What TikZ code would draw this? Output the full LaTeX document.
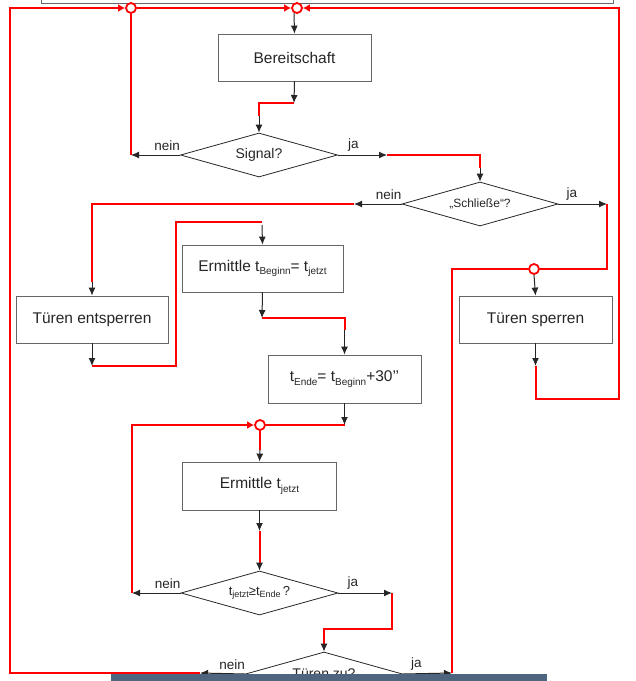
\documentclass[tikz,border=0pt]{standalone}
\usepackage{fontspec}
\setmainfont{Liberation Sans}
\usetikzlibrary{shapes.geometric, arrows.meta, positioning}
\definecolor{barblue}{HTML}{4E6580}
\definecolor{ink}{HTML}{262626}
\newcommand\tsub[2][10]{\raisebox{-.4ex}{\fontsize{#1}{#1}\selectfont #2}}

\begin{document}
\begin{tikzpicture}[x=1pt, y=-1pt, >={Latex[length=8pt,width=7pt]},
  box/.style={draw=black!60, line width=0.8pt, minimum width=153pt, minimum height=47pt, inner sep=0pt, text=ink, font=\fontsize{15.5}{18}\selectfont},
  dia/.style={draw=ink, line width=0.8pt, diamond, aspect=3.5, minimum width=157pt, minimum height=44pt, inner sep=0pt, text=ink, font=\fontsize{14}{16}\selectfont},
  flow/.style={draw=ink, line width=1pt, ->},
  redline/.style={draw=red, line width=2pt},
  redarrow/.style={redline, -{Latex[length=7pt,width=8pt]}},
  knot/.style={circle, draw=red, line width=1.8pt, fill=white, inner sep=0pt, minimum size=10pt},
  lbl/.style={inner sep=0pt, text=ink, font=\fontsize{13.5}{15}\selectfont}]
\useasboundingbox (0,0) rectangle (636,681);
\draw[black!60, line width=0.8pt] (41,-10) rectangle (613,3);

% boxes and decisions
\node[box] (ready) at (294.5,57.5) {Bereitschaft};
\node[dia] (signal) at (259,155) {Signal?};
\node[dia, minimum width=156pt, font=\fontsize{12}{14}\selectfont] (close) at (480,204) {„Schließe“?};
\node[box, minimum width=152pt] (unlock) at (92,319.5) {Türen entsperren};
\node[box] (lock) at (535.5,319.5) {Türen sperren};
\node[box, minimum width=161pt] (tbegin) at (262.5,268.5) {Ermittle t\tsub{Beginn}= t\tsub{jetzt}};
\node[box, minimum height=48pt] (tend) at (344.5,379) {t\tsub{Ende}= t\tsub{Beginn}+30’’};
\node[box, minimum width=154pt, minimum height=48pt] (tnow) at (259.5,486) {Ermittle t\tsub{jetzt}};
\node[dia, font=\fontsize{13}{15}\selectfont] (check) at (259.5,593) {t\tsub[9]{jetzt}≥t\tsub[9]{Ende}\,?};
\node[dia] (doors) at (324,674) {Türen zu?};

\node[lbl, above left=4pt and 0pt of signal.west] (signo) {nein};
\node[lbl, above right=4pt and 10pt of signal.east] (sigyes) {ja};
\node[lbl, above left=4pt and 0pt of close.west] (closeno) {nein};
\node[lbl, above right=4pt and 8pt of close.east] (closeyes) {ja};
\node[lbl, above left=4pt and 0pt of check.west] (checkno) {nein};
\node[lbl, above right=4pt and 9pt of check.east] (checkyes) {ja};
\node[lbl, above left=4pt and 0pt of doors.west] (doorsno) {nein};
\node[lbl, above right=4pt and 8pt of doors.east] (doorsyes) {ja};

% junctions
\node[knot] (k1) at (131,8) {};
\node[knot] (k2) at (297,8) {};
\node[knot] (k3) at (534,269) {};
\node[knot] (k4) at (260,425) {};

\coordinate (tl) at (10,8);
\coordinate (a0) at (294,13);
\coordinate (a1) at (294,103);
\coordinate (a2) at (259,116);
\coordinate (sn) at (131,155);
\coordinate (sy) at (387,155);
\coordinate (c0) at (480,168);
\coordinate (cn) at (354,204);
\coordinate (cy) at (607,204);
\coordinate (u0) at (92,282);
\coordinate (us) at (92,366);
\coordinate (ub) at (176,222);
\coordinate (b0) at (262,222);
\coordinate (bs) at (262,318);
\coordinate (e0) at (344.5,330);
\coordinate (es) at (344.5,425);
\coordinate (n0) at (260,450);
\coordinate (ls) at (535.5,366);
\coordinate (lr) at (619,399);
\coordinate (ns) at (259.5,531);
\coordinate (q0) at (259.5,565);
\coordinate (qn) at (132,593);
\coordinate (qy) at (392,593);
\coordinate (qb) at (324,629);
\coordinate (z0) at (324,646);
\coordinate (dn) at (200,673);
\coordinate (dy) at (452,673);

% red return lines
\draw[redarrow] (dn) -| (tl) -- (k1.west);
\draw[redarrow] (k1.east) -- (k2.west);
\draw[redarrow] (ls) |- (lr) |- (k2.east);
\draw[redline] (sn) -- (k1.south);
\draw[redline] (a1) -| (a2);
\draw[redline] (sy) -| (c0);
\draw[redline] (cn) -| (u0);
\draw[redline] (cy) |- (k3.east);
\draw[redline] (us) -| (ub) -- (b0);
\draw[redline] (bs) -| (e0);
\draw[redline] (es) -- (k4.east);
\draw[redline] (k4.south) -- (n0);
\draw[redline] (ns) -- (q0);
\draw[redarrow] (qn) |- (k4.west);
\draw[redline] (qy) |- (qb) -- (z0);
\draw[redline] (dy) |- (k3.west);

% flow arrows
\draw[flow] (a0) -- (ready.north);
\draw[flow] (ready.south) -- (a1);
\draw[flow] (a2) -- (signal.north);
\draw[flow] (signal.west) -- (sn);
\draw[flow] (signal.east) -- (sy);
\draw[flow] (c0) -- (close.north);
\draw[flow] (close.west) -- (cn);
\draw[flow] (close.east) -- (cy);
\draw[flow] (u0) -- (unlock.north);
\draw[flow] (unlock.south) -- (us);
\draw[flow] (k3.south) -- (lock.north);
\draw[flow] (lock.south) -- (ls);
\draw[flow] ([yshift=-3pt]b0) -- (tbegin.north);
\draw[flow] (tbegin.south) -- (bs);
\draw[flow] (e0) -- (tend.north);
\draw[flow] (tend.south) -- (es);
\draw[flow] (n0) -- (tnow.north);
\draw[flow] (tnow.south) -- (ns);
\draw[flow] (q0) -- (check.north);
\draw[flow] (check.west) -- (qn);
\draw[flow] (check.east) -- (qy);
\draw[flow] (z0) -- (doors.north);
\draw[flow] (doors.west) -- (dn);
\draw[flow] (doors.east) -- (dy);

\fill[barblue] (111,674) rectangle (547,690);
\end{tikzpicture}
\end{document}
